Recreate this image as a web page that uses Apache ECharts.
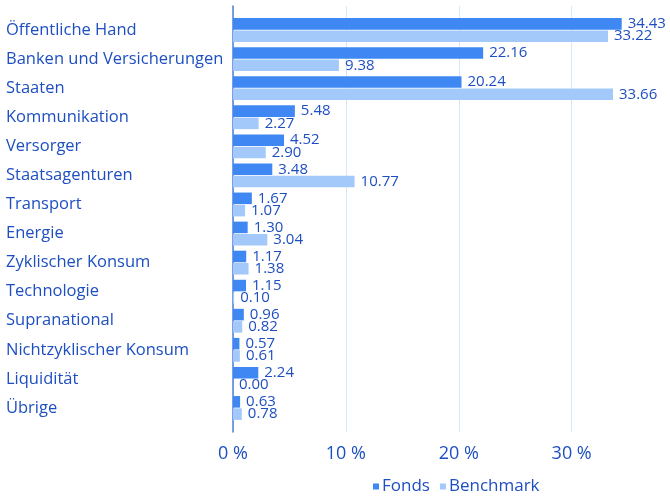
<!DOCTYPE html>
<html>
<head>
<meta charset="utf-8">
<script src="https://cdn.jsdelivr.net/npm/echarts@6/dist/echarts.min.js"></script>
<style>
  html, body { margin: 0; padding: 0; background: #fff; }
  #main { width: 670px; height: 496px; }
</style>
</head>
<body>
<div id="main"></div>
<script>
var categories = ["Öffentliche Hand", "Banken und Versicherungen", "Staaten", "Kommunikation", "Versorger",
    "Staatsagenturen", "Transport", "Energie", "Zyklischer Konsum", "Technologie", "Supranational",
    "Nichtzyklischer Konsum", "Liquidität", "Übrige"];
var fonds = [34.43, 22.16, 20.24, 5.48, 4.52, 3.48, 1.67, 1.30, 1.17, 1.15, 0.96, 0.57, 2.24, 0.63];
var benchmark = [33.22, 9.38, 33.66, 2.27, 2.90, 10.77, 1.07, 3.04, 1.38, 0.10, 0.82, 0.61, 0.00, 0.78];
var xTicks = [0, 10, 20, 30];

var textColor = '#1e4fc2';
var fontName = 'Open Sans';

var myChart = echarts.init(document.getElementById('main'));

var valueLabel = {
    show: true,
    position: 'right',
    distance: 6,
    color: textColor,
    fontFamily: fontName,
    fontSize: 15,
    formatter: function (p) {
        return p.value.toFixed(2);
    }
};

var option = {
    animation: false,
    // grid 0: frame with split lines and axis line, grid 1: the bars
    grid: [
        {left: 233, right: 8, top: 6, height: 426},
        {left: 233, right: 8, top: 15.5, height: 407}
    ],
    xAxis: [
        {
            gridIndex: 0, type: 'value', min: 0, max: 38, interval: 10,
            axisLine: {show: false}, axisTick: {show: false},
            splitLine: {show: true, showMaxLine: false, lineStyle: {color: '#d6e6fb', width: 1}},
            axisLabel: {
                color: textColor, fontFamily: fontName, fontSize: 18, margin: 13,
                showMaxLabel: false,
                formatter: function (v) {
                    return xTicks.indexOf(v) >= 0 ? v + ' %' : '';
                }
            }
        },
        {
            gridIndex: 1, type: 'value', min: 0, max: 38, show: false
        }
    ],
    yAxis: [
        {
            gridIndex: 0, type: 'value', min: 0, max: 1,
            axisLine: {show: true, lineStyle: {color: '#4f7fd8', width: 1.5}},
            axisTick: {show: false}, axisLabel: {show: false}, splitLine: {show: false}
        },
        {
            gridIndex: 1, type: 'category', data: categories, inverse: true,
            axisLine: {show: false}, axisTick: {show: false},
            axisLabel: {
                color: textColor, fontFamily: fontName, fontSize: 16.5,
                align: 'left', margin: 227
            }
        }
    ],
    legend: {
        data: ['Fonds', 'Benchmark'],
        left: 368, top: 473,
        icon: 'rect', itemWidth: 6, itemHeight: 6, itemGap: 10,
        textStyle: {color: textColor, fontFamily: fontName, fontSize: 17, padding: [0, 0, 0, -2]}
    },
    series: [
        {
            name: 'Fonds', type: 'bar', xAxisIndex: 1, yAxisIndex: 1,
            data: fonds, barCategoryGap: '18%', barGap: '6%',
            itemStyle: {color: '#3f88f4'},
            label: valueLabel
        },
        {
            name: 'Benchmark', type: 'bar', xAxisIndex: 1, yAxisIndex: 1,
            data: benchmark,
            itemStyle: {color: '#a3c9fb'},
            label: valueLabel
        }
    ]
};

myChart.setOption(option);
</script>
</body>
</html>
